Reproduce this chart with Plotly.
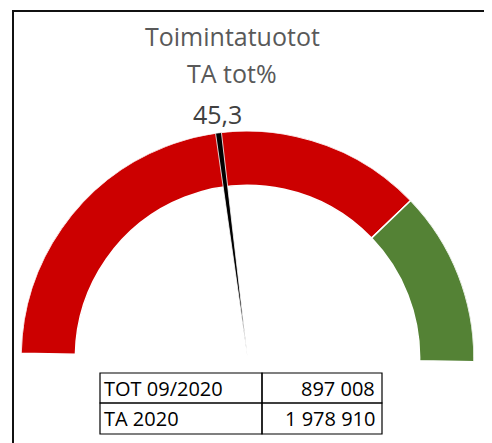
import math
import plotly.graph_objects as go

# ---- data ----
title_lines = ["Toimintatuotot", "TA tot%"]
needle_value = 45.3
needle_label = "45,3"
gauge_min, gauge_max = 0, 100
band_starts = [0, 75]
band_ends = [75, 100]
band_colors = ["#CC0000", "#548235"]
table_labels = ["TOT 09/2020", "TA 2020"]
table_values = [897008, 1978910]

# ---- layout constants (page pixels) ----
PAGE_W, PAGE_H = 492, 443
OFF = 8                      # default body margin of the html page
W, H = PAGE_W - OFF, PAGE_H - OFF
TILT = -1.1                  # slight clockwise tilt seen in the original
INNER = 0.76                 # doughnut hole fraction
NEEDLE_W = 1.5               # needle wedge width (degrees)
FONT = "Open Sans, Lato, sans-serif"


def to_deg(v):
    """gauge scale: gauge_min -> 180 deg (left), gauge_max -> 0 deg (right)"""
    return 180.0 * (gauge_max - v) / (gauge_max - gauge_min)


def span_deg(a, b):
    return 180.0 * (b - a) / (gauge_max - gauge_min)


def px(x):
    return (x - OFF) / W


def py(y):
    return 1 - (y - OFF) / H


fig = go.Figure()

fig.add_trace(go.Barpolar(
    r=[1 - INNER] * len(band_starts),
    base=[INNER] * len(band_starts),
    theta=[to_deg((a + b) / 2) for a, b in zip(band_starts, band_ends)],
    width=[span_deg(a, b) for a, b in zip(band_starts, band_ends)],
    marker=dict(color=band_colors, line=dict(color="white", width=1.5)),
    hoverinfo="skip",
))

fig.add_trace(go.Barpolar(
    r=[1.0],
    base=[0],
    theta=[to_deg(needle_value)],
    width=[NEEDLE_W],
    marker=dict(color="black", line=dict(color="white", width=0.8)),
    hoverinfo="skip",
))

R = 226.5
cx, cy = 247.5, 357.5
ybot = cy + R * math.sin(math.radians(2))

fig.update_layout(
    width=W, height=H,
    margin=dict(l=0, r=0, t=0, b=0),
    paper_bgcolor="white",
    showlegend=False,
    polar=dict(
        domain=dict(x=[px(cx - R), px(cx + R)], y=[py(ybot), py(cy - R)]),
        sector=[-2, 180],
        hole=0,
        bgcolor="rgba(0,0,0,0)",
        radialaxis=dict(range=[0, 1], visible=False),
        angularaxis=dict(visible=False, rotation=TILT, direction="counterclockwise"),
    ),
)

ann = []


def text(x, y, s, size, color, xanchor="center"):
    ann.append(dict(x=px(x), y=py(y), text=s, showarrow=False,
                    xref="paper", yref="paper", xanchor=xanchor, yanchor="middle",
                    font=dict(family=FONT, size=size, color=color)))


title_font_size = 25
text(232, 36, title_lines[0], title_font_size, "#595959")
text(232, 73, title_lines[1], title_font_size, "#595959")
text(217, 114, needle_label, 25, "#404040")

# table
tx0, tx1, tx2 = 100, 262, 382
row_y = [373, 403, 434]
shapes = []
for i in range(len(table_labels)):
    for (a, b) in [(tx0, tx1), (tx1, tx2)]:
        shapes.append(dict(type="rect", xref="paper", yref="paper",
                           x0=px(a), x1=px(b), y0=py(row_y[i + 1]), y1=py(row_y[i]),
                           line=dict(color="black", width=1.2)))
    ymid = (row_y[i] + row_y[i + 1]) / 2
    text(tx0 + 2, ymid, table_labels[i], 20, "black", "left")
    text(tx2 - 5, ymid, f"{table_values[i]:,}".replace(",", " "), 20, "black", "right")

# outer frame
shapes.append(dict(type="rect", xref="paper", yref="paper",
                   x0=px(13), x1=px(PAGE_W + 20), y0=py(PAGE_H + 20), y1=py(11),
                   line=dict(color="#111111", width=2)))

fig.update_layout(annotations=ann, shapes=shapes)
fig.write_html("out.html", config=dict(displayModeBar=False))
